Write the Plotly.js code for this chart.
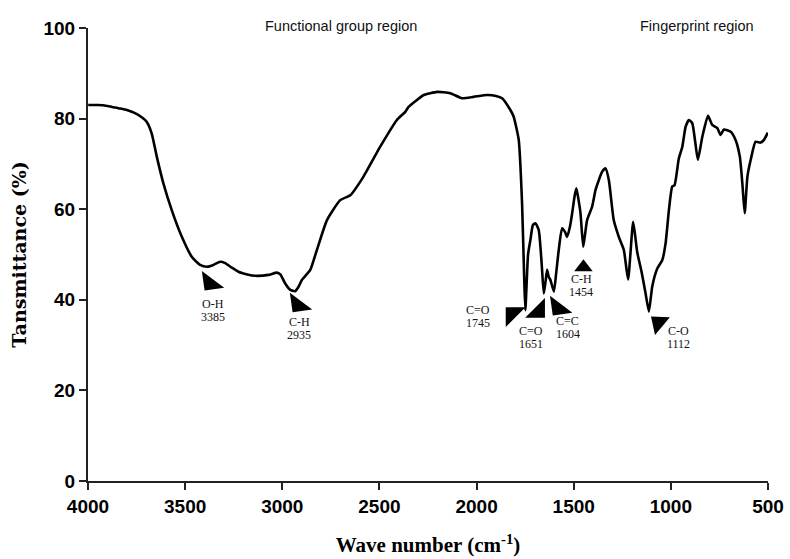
<!DOCTYPE html>
<html>
<head>
<meta charset="utf-8">
<script src="https://cdn.plot.ly/plotly-3.0.1.min.js"></script>
<style>html,body{margin:0;padding:0;background:#fff;}#chart{width:790px;height:559px;}</style>
</head>
<body>
<div id="chart"></div>
<script>
// Spectrum (wavenumber cm-1, transmittance %)
var waveNumber = [3999,3950,3900,3844,3800,3758,3720,3698,3672,3646,3612,3569,3517,3466,3423,3388,3354,3320,3294,3260,3226,3180,3140,3071,3028,3010,2985,2959,2934,2915,2899,2856,2822,2770,2702,2650,2582,2496,2410,2367,2350,2310,2272,2203,2135,2075,2015,1946,1900,1869,1826,1809,1783,1766,1755,1749,1735,1723,1710,1697,1680,1665,1654,1645,1637,1628,1620,1602,1590,1577,1560,1545,1534,1520,1508,1495,1486,1475,1465,1451,1440,1431,1405,1388,1371,1353,1336,1319,1294,1268,1242,1220,1194,1173,1150,1130,1113,1096,1070,1044,1027,1010,993,981,959,941,924,907,890,875,861,838,809,787,761,744,727,692,667,645,632,620,606,589,564,538,521,501];
var transmittance = [83.0,83.0,82.8,82.3,81.9,81.2,80.2,79.3,76.7,71.6,65.7,59.8,53.9,49.5,47.7,47.3,47.7,48.4,48.1,47.1,46.2,45.6,45.3,45.5,46.0,45.6,43.6,42.2,41.9,43.0,44.4,46.6,51.0,57.6,62.0,63.1,67.2,73.8,79.7,81.5,82.6,84.0,85.2,85.9,85.6,84.5,84.8,85.2,85.0,84.5,81.9,80.4,75.3,61.5,45.0,37.7,50.0,53.2,56.5,56.9,55.4,48.0,41.4,44.0,46.6,45.0,44.4,41.8,46.0,51.0,55.8,55.0,53.9,56.0,59.1,63.0,64.6,62.0,59.1,51.7,55.0,57.6,60.6,64.2,66.4,68.3,69.0,66.4,57.6,53.9,51.0,44.5,57.2,50.5,46.0,41.4,37.4,42.9,46.9,48.8,52.5,59.8,65.0,65.3,71.2,73.8,78.2,79.7,79.0,75.0,70.9,76.0,80.6,78.6,77.9,76.4,77.6,77.1,75.3,71.6,65.7,59.1,67.2,70.9,74.9,74.7,75.3,76.9];

// Peak assignments
var peakGroup = ["O-H","C-H","C=O","C=O","C=C","C-H","C-O"];
var peakWave = ["3385","2935","1745","1651","1604","1454","1112"];
// marker (triangle) positions and label positions in data units
var arrowX = [3371,2918,1816,1682,1579,1450,1063];
var arrowY = [43.7,38.9,36.9,37.5,38.2,47.2,34.9];
var arrowSymbol = ['triangle-sw','triangle-sw','triangle-nw','triangle-se','triangle-sw','triangle-up','triangle-up'];
var arrowAngle = [-8,-8,0,0,-8,0,-50];
var arrowSize = [22,22,22,22,22,16,20];
var labelX = [3358,2913,1991,1718,1532,1460,960];
var labelY = [37.6,33.7,36.4,31.7,33.9,43.2,31.7];

var regionNames = ["Functional group region","Fingerprint region"];
var regionX = [2697,868];

var xTicks = [4000,3500,3000,2500,2000,1500,1000,500];
var yTicks = [0,20,40,60,80,100];

var traces = [
  {x: waveNumber, y: transmittance, type: 'scatter', mode: 'lines',
   line: {color: '#000', width: 2.6, shape: 'spline', smoothing: 0.5},
   hoverinfo: 'skip', showlegend: false},
  {x: arrowX, y: arrowY, type: 'scatter', mode: 'markers',
   marker: {symbol: arrowSymbol, size: arrowSize, color: '#000', opacity: 1,
            angle: arrowAngle, line: {width: 0}},
   hoverinfo: 'skip', showlegend: false}
];

var labelFont = {family: 'Liberation Serif, serif', size: 12, color: '#111'};
var annotations = [];
for (var i = 0; i < peakGroup.length; i++) {
  annotations.push({x: labelX[i], y: labelY[i], xref: 'x', yref: 'y', yshift: 6.5,
    text: peakGroup[i], showarrow: false, font: labelFont,
    xanchor: 'center', yanchor: 'middle'});
  annotations.push({x: labelX[i], y: labelY[i], xref: 'x', yref: 'y', yshift: -6.5,
    text: peakWave[i], showarrow: false, font: labelFont,
    xanchor: 'center', yanchor: 'middle'});
}
for (var j = 0; j < regionNames.length; j++) {
  annotations.push({x: regionX[j], y: 1.0044, xref: 'x', yref: 'paper',
    text: regionNames[j], showarrow: false,
    font: {family: 'Liberation Sans, Arial, sans-serif', size: 14.5, color: '#111'},
    xanchor: 'center', yanchor: 'middle'});
}

var layout = {
  width: 790, height: 559,
  margin: {l: 88, r: 22, t: 28, b: 78},
  paper_bgcolor: '#fff', plot_bgcolor: '#fff',
  showlegend: false,
  xaxis: {
    range: [4000, 500], tickvals: xTicks, ticktext: xTicks.map(String),
    showgrid: false, zeroline: false, showline: true, linecolor: '#222', linewidth: 2,
    ticks: 'outside', ticklen: 7, tickwidth: 2, tickcolor: '#222',
    tickfont: {family: 'Liberation Sans, Arial, sans-serif', size: 19, color: '#000', weight: 'bold'},
    title: {text: 'Wave number (cm<sup>-1</sup>)', standoff: 22,
      font: {family: 'Liberation Serif, serif', size: 21, color: '#000', weight: 'bold'}}
  },
  yaxis: {
    range: [0, 100], tickvals: yTicks, ticktext: yTicks.map(String),
    showgrid: false, zeroline: false, showline: true, linecolor: '#222', linewidth: 2,
    ticks: 'outside', ticklen: 7, tickwidth: 2, tickcolor: '#222',
    tickfont: {family: 'Liberation Sans, Arial, sans-serif', size: 19, color: '#000', weight: 'bold'},
    title: {text: 'Tansmittance (%)', standoff: 12,
      font: {family: 'DejaVu Serif, serif', size: 19, color: '#000', weight: 'bold'}}
  },
  annotations: annotations
};

Plotly.newPlot('chart', traces, layout, {staticPlot: true, displayModeBar: false});
</script>
</body>
</html>
